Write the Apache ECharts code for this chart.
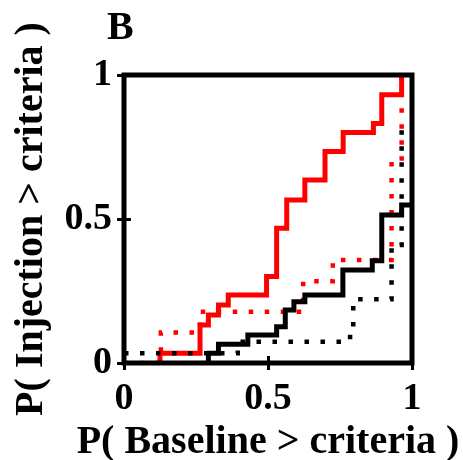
<!DOCTYPE html>
<html>
<head>
<meta charset="utf-8">
<script src="https://cdn.jsdelivr.net/npm/echarts@6/dist/echarts.min.js"></script>
<style>
  html, body { margin: 0; padding: 0; background: #fff; }
  #chart { width: 463px; height: 460px; }
</style>
</head>
<body>
<div id="chart"></div>
<script>
// Step curves: each x is where the curve jumps up to the matching y level.
const redSolidX   = [0.125, 0.125, 0.264, 0.293, 0.328, 0.362, 0.495, 0.530, 0.565, 0.628, 0.698, 0.761, 0.866, 0.895, 0.964];
const redSolidY   = [0.000, 0.034, 0.132, 0.167, 0.201, 0.236, 0.300, 0.468, 0.566, 0.635, 0.734, 0.800, 0.832, 0.931, 1.000];

const redDotX     = [0.000, 0.128, 0.264, 0.622, 0.725, 0.929, 0.964];
const redDotY     = [0.000, 0.106, 0.178, 0.284, 0.358, 0.710, 1.000];

const blackSolidX = [0.293, 0.293, 0.328, 0.430, 0.530, 0.560, 0.590, 0.628, 0.760, 0.862, 0.895, 0.964, 1.000];
const blackSolidY = [0.000, 0.034, 0.065, 0.097, 0.126, 0.184, 0.213, 0.236, 0.323, 0.355, 0.514, 0.549, 0.549];

const blackDotX   = [0.000, 0.395, 0.785, 0.796, 0.929, 0.964];
const blackDotY   = [0.034, 0.074, 0.120, 0.221, 0.410, 0.830];

const tickValues  = [0, 0.5, 1];
const panelLabel  = 'B';
const xTitle      = 'P( Baseline > criteria )';
const yTitle      = 'P( Injection > criteria )';

const FONT = '"Liberation Serif", "Times New Roman", serif';

function pairs(xs, ys) {
  return xs.map((x, i) => [x, ys[i]]);
}

function stepSeries(xs, ys, color, dotted) {
  return {
    type: 'line',
    step: 'end',
    showSymbol: false,
    symbol: 'none',
    animation: false,
    data: pairs(xs, ys),
    lineStyle: {
      color: color,
      width: dotted ? 4.5 : 5,
      type: dotted ? [4.5, 11.5] : 'solid',
      cap: 'butt',
      join: 'miter'
    }
  };
}

const tickFmt = v => (tickValues.indexOf(v) >= 0 ? String(v) : '');

const chart = echarts.init(document.getElementById('chart'), null, { renderer: 'canvas' });

const baseAxis = {
  type: 'value',
  min: 0,
  max: 1,
  interval: 0.5,
  z: 10,
  splitLine: { show: false },
  axisLine: { show: false },
  axisTick: { show: true, inside: true, length: 7, lineStyle: { color: '#000', width: 3 } }
};

chart.setOption({
  animation: false,
  backgroundColor: '#fff',
  title: {
    text: panelLabel,
    left: 107,
    top: 9,
    padding: 0,
    textStyle: { fontFamily: FONT, fontWeight: 'bold', fontSize: 40, color: '#000' }
  },
  grid: {
    left: 124, right: 51, top: 75, bottom: 97,
    containLabel: false,
    outerBoundsMode: 'none',
    show: true,
    z: 10,
    backgroundColor: 'transparent',
    borderColor: '#000',
    borderWidth: 5
  },
  xAxis: [
    Object.assign({}, baseAxis, {
      position: 'bottom',
      name: xTitle,
      nameLocation: 'middle',
      nameGap: 56,
      nameTextStyle: { fontFamily: FONT, fontWeight: 'bold', fontSize: 40, color: '#000' },
      axisLabel: { show: true, margin: 17, formatter: tickFmt, fontFamily: FONT, fontWeight: 'bold', fontSize: 38, color: '#000' }
    }),
    Object.assign({}, baseAxis, { position: 'top', axisLabel: { show: false } })
  ],
  yAxis: [
    Object.assign({}, baseAxis, {
      position: 'left',
      name: yTitle,
      nameLocation: 'middle',
      nameGap: 72,
      nameTextStyle: { fontFamily: FONT, fontWeight: 'bold', fontSize: 40, color: '#000' },
      axisLabel: { show: true, margin: 12, padding: [6, 0, 0, 0], formatter: tickFmt, fontFamily: FONT, fontWeight: 'bold', fontSize: 38, color: '#000' }
    }),
    Object.assign({}, baseAxis, { position: 'right', axisLabel: { show: false } })
  ],
  series: [
    stepSeries(redSolidX, redSolidY, '#ff0000', false),
    stepSeries(redDotX, redDotY, '#ff0000', true),
    stepSeries(blackSolidX, blackSolidY, '#000000', false),
    stepSeries(blackDotX, blackDotY, '#000000', true)
  ]
});
</script>
</body>
</html>
